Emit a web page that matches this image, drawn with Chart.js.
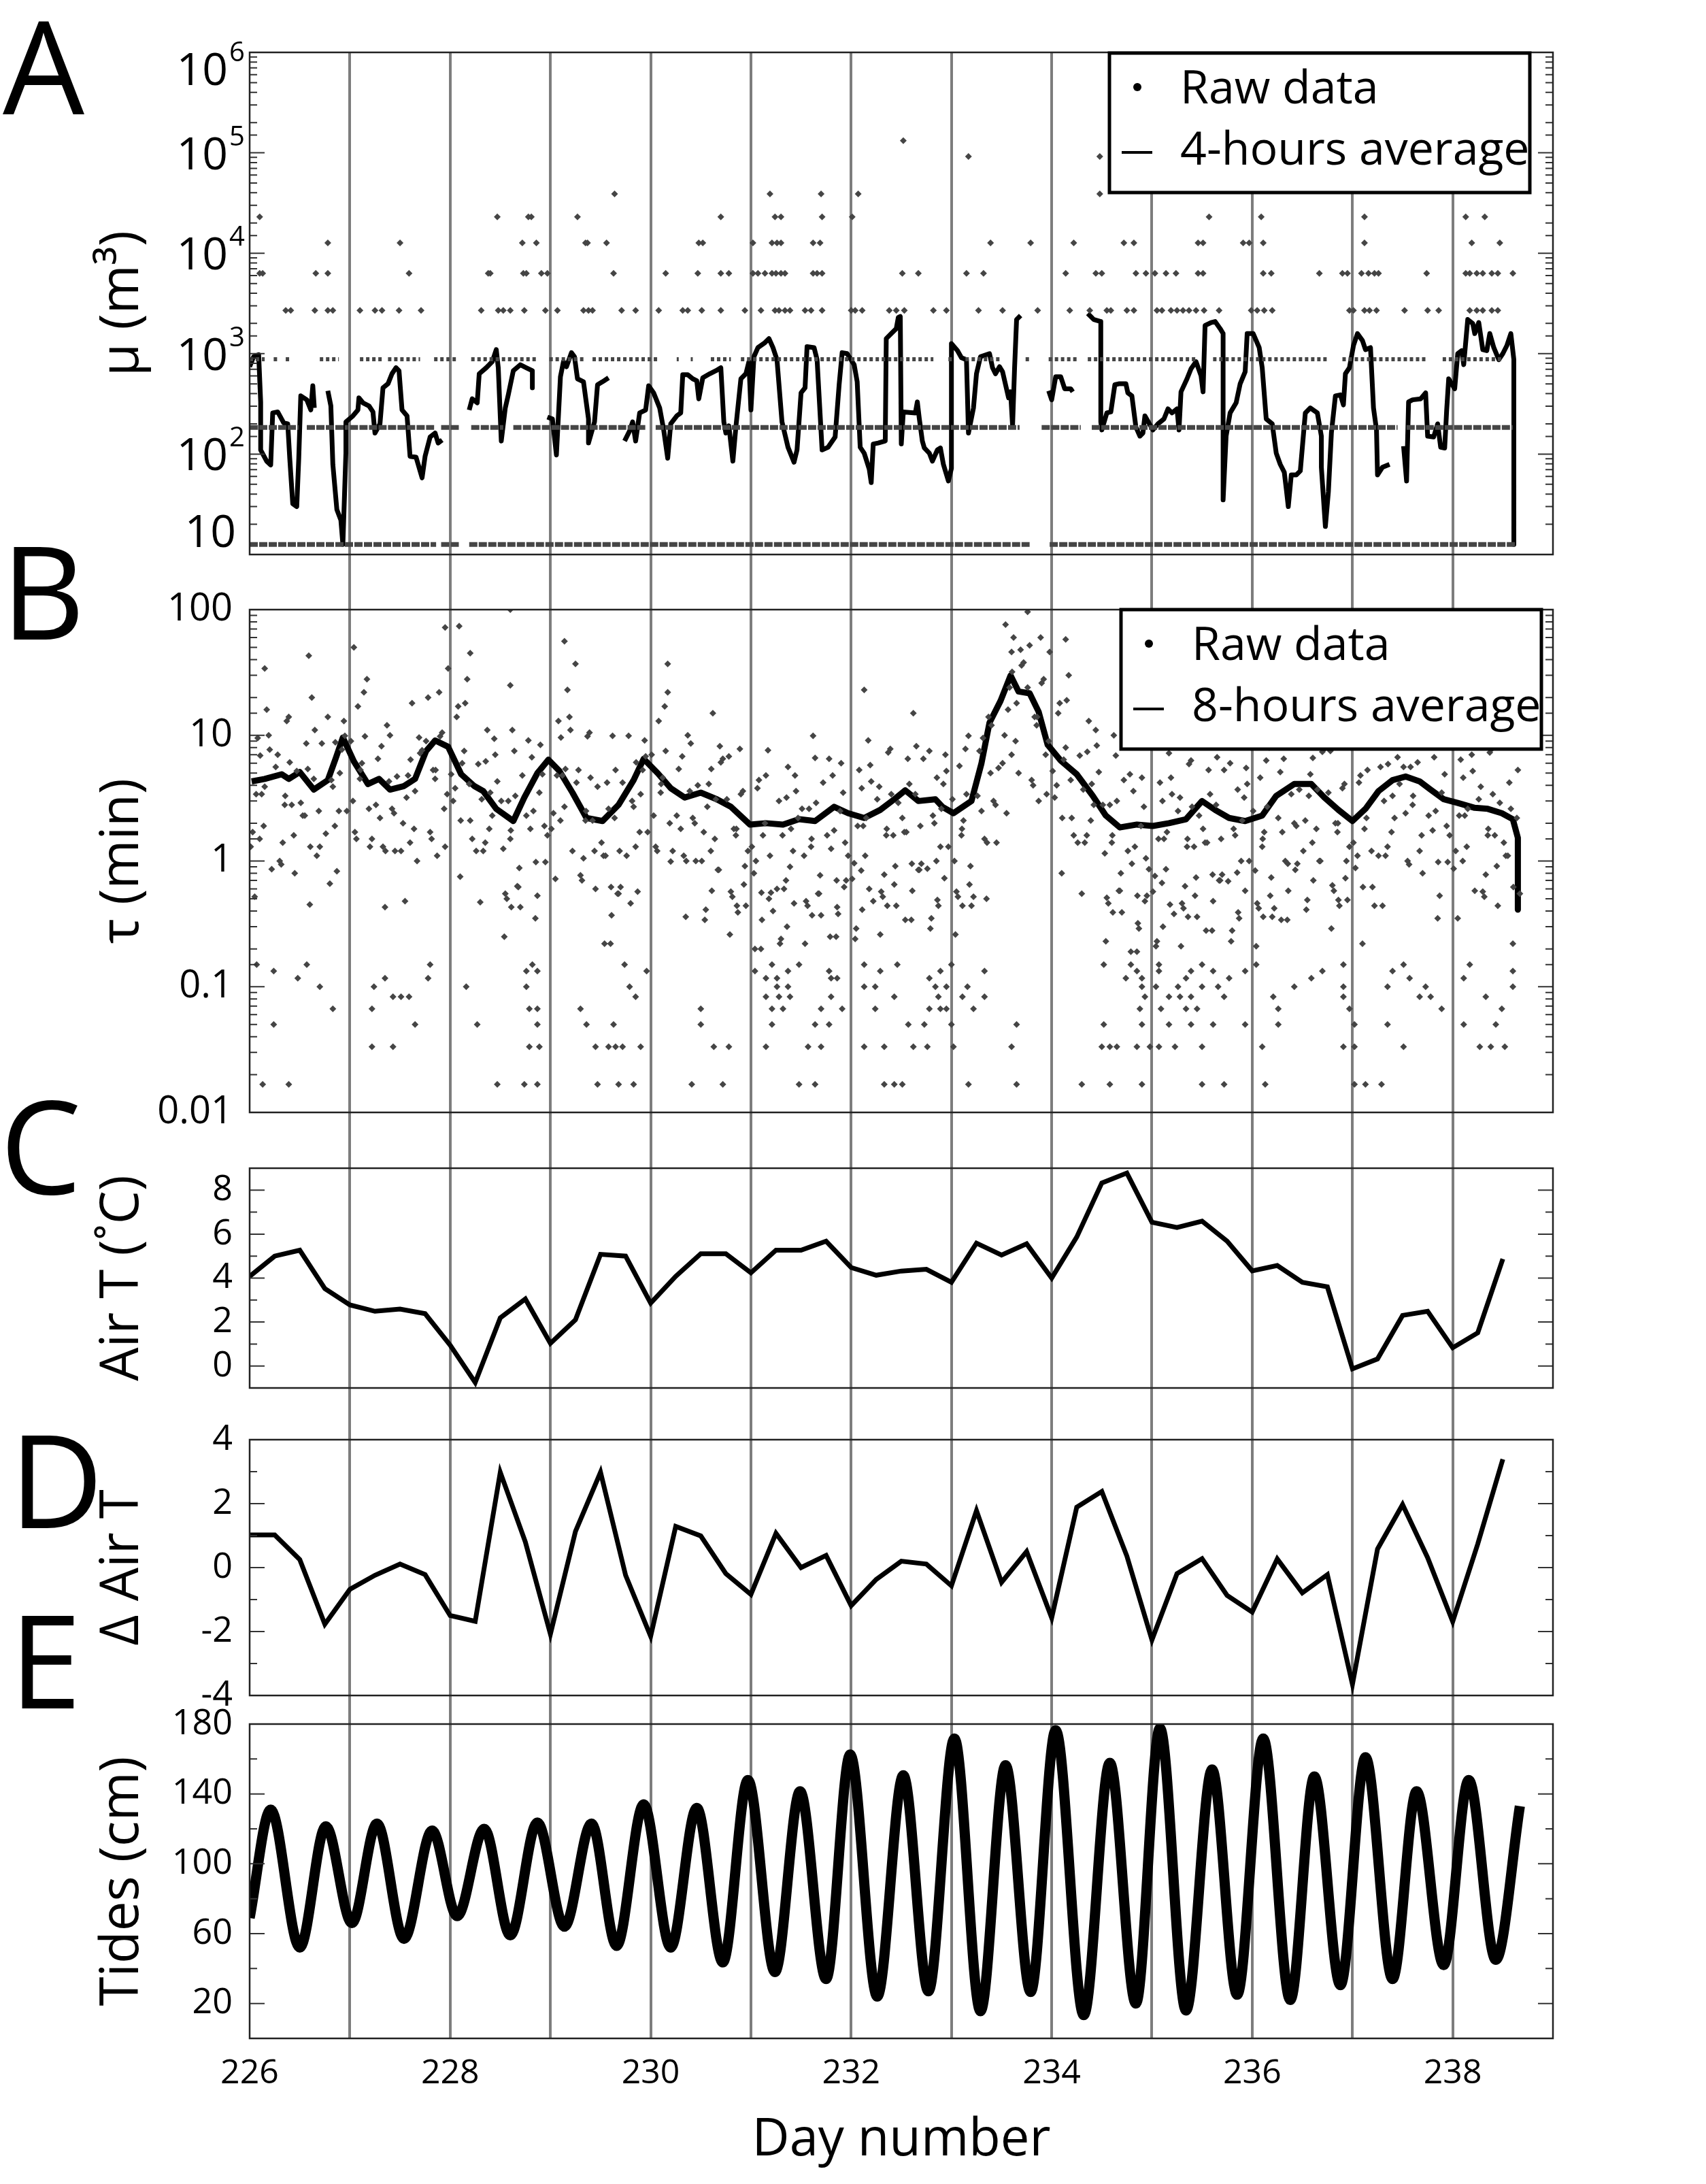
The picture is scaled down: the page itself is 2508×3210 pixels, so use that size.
<!DOCTYPE html>
<html>
<head>
<meta charset="utf-8">
<title>Calving record, days 226-239</title>
<script src="https://cdn.jsdelivr.net/npm/chart.js@4.4.1/dist/chart.umd.min.js"></script>
<style>
  html, body { margin: 0; padding: 0; background: #fff; }
  canvas { display: block; }
</style>
</head>
<body>
<canvas id="panels" width="2508" height="3210" style="width:2508px;height:3210px"></canvas>
<script>
const FONT = "'Open Sans', 'DejaVu Sans', sans-serif";
const DOT = "#454545";
const GRID = "#7d7d7d";

// ---- panel A: event volume (m3) ----
const muBandLevels = [12.6, 184, 880];
const muBandSpans = [
  [[226.0, 227.86], [227.91, 228.10], [228.19, 233.78], [233.98, 238.62]],
  [[226.0, 226.49], [226.57, 226.98], [227.0, 227.84], [227.91, 228.10], [228.21, 228.53], [228.63, 229.95], [230.05, 233.68], [233.90, 234.29], [234.40, 237.45], [237.54, 238.60]],
  [[226.0, 226.15], [226.24, 226.30], [226.36, 226.42], [226.70, 226.89], [227.10, 227.32], [227.38, 227.70], [227.84, 228.06], [228.21, 228.86], [228.99, 229.33], [229.42, 230.07], [230.26, 230.28], [230.40, 230.42], [230.60, 230.80], [230.90, 232.82], [232.97, 233.02], [233.14, 233.48], [233.74, 233.80], [233.97, 234.25], [234.36, 235.44], [235.61, 236.75], [236.90, 237.73], [237.90, 238.49]]
];
const muDotLevels = [2700, 6300, 12700, 23000, 39000, 92000, 132000];
const muDotDays = [
  [226.36, 226.41, 226.65, 226.78, 226.83, 227.10, 227.25, 227.32, 227.49, 227.71, 228.31, 228.48, 228.53, 228.60, 228.74, 228.95, 229.07, 229.33, 229.38, 229.42, 229.71, 229.85, 230.08, 230.32, 230.37, 230.51, 230.70, 230.94, 231.10, 231.24, 231.28, 231.34, 231.39, 231.54, 231.60, 231.71, 232.00, 232.04, 232.11, 232.38, 232.45, 232.53, 232.82, 232.95, 233.27, 233.51, 233.86, 234.18, 234.38, 234.55, 234.59, 234.75, 234.82, 235.05, 235.10, 235.19, 235.25, 235.31, 235.37, 235.44, 235.52, 235.67, 235.99, 236.05, 236.12, 236.20, 236.97, 237.01, 237.12, 237.17, 237.24, 237.52, 237.75, 237.86, 238.17, 238.24, 238.30, 238.39, 238.45],
  [226.10, 226.13, 226.66, 226.78, 227.59, 228.38, 228.40, 228.73, 228.76, 228.91, 228.97, 229.63, 230.15, 230.47, 230.70, 230.78, 231.02, 231.07, 231.14, 231.21, 231.25, 231.30, 231.34, 231.62, 231.66, 231.71, 232.51, 232.67, 233.15, 233.32, 234.14, 234.44, 234.50, 234.84, 234.94, 235.03, 235.14, 235.24, 235.46, 235.51, 236.11, 236.19, 236.67, 236.90, 236.95, 237.09, 237.16, 237.22, 237.26, 237.74, 238.13, 238.17, 238.24, 238.30, 238.39, 238.45, 238.60],
  [226.78, 227.50, 228.72, 228.86, 229.35, 229.37, 229.56, 230.48, 230.52, 231.02, 231.21, 231.26, 231.30, 231.62, 231.69, 233.39, 233.79, 234.22, 234.72, 234.82, 235.46, 235.51, 235.91, 235.97, 236.11, 237.12, 238.19, 238.47],
  [226.10, 228.47, 228.78, 228.81, 229.27, 230.70, 231.24, 231.30, 231.71, 232.01, 235.57, 236.09, 237.12, 238.13, 238.32],
  [229.64, 231.19, 231.70, 232.07, 234.48],
  [233.17, 234.48],
  [232.52]
];
// 4-hours average, null = no data
const muAvg = [
  [226.00, 742], [226.04, 933], [226.09, 977], [226.11, 331], [226.11, 110], [226.17, 85], [226.21, 78], [226.23, 257], [226.28, 263], [226.34, 204], [226.38, 200], [226.40, 91], [226.43, 32], [226.47, 30], [226.49, 91], [226.51, 380], [226.57, 347], [226.61, 275], [226.63, 479], [226.645, 288],
  [226.70, null],
  [226.78, 427], [226.81, 302], [226.83, 79], [226.87, 28], [226.91, 22], [226.93, 12.6], [226.96, 102], [226.96, 209], [227.03, 240], [227.08, 275], [227.09, 363], [227.13, 324], [227.19, 302], [227.23, 263], [227.25, 162], [227.30, 200], [227.33, 457], [227.38, 501], [227.42, 631], [227.46, 724], [227.49, 676], [227.52, 275], [227.57, 240], [227.60, 95], [227.66, 93], [227.72, 58], [227.75, 95], [227.80, 148], [227.85, 162], [227.88, 129], [227.92, 138],
  [228.00, null],
  [228.19, 275], [228.22, 355], [228.27, 324], [228.29, 631], [228.36, 724], [228.42, 832], [228.46, 1096], [228.48, 724], [228.51, 135], [228.55, 288], [228.58, 389], [228.63, 676], [228.70, 776], [228.76, 724], [228.82, 676], [228.82, 457],
  [228.90, null],
  [228.97, 234], [229.02, 224], [229.06, 98], [229.10, 589], [229.13, 832], [229.16, 741], [229.21, 1023], [229.24, 933], [229.27, 562], [229.33, 525], [229.38, 224], [229.38, 129], [229.44, 209], [229.47, 490], [229.52, 525], [229.58, 575],
  [229.65, null],
  [229.74, 135], [229.79, 170], [229.82, 209], [229.85, 135], [229.89, 257], [229.95, 275], [229.98, 479], [230.03, 407], [230.09, 288], [230.13, 174], [230.17, 91], [230.20, 200], [230.26, 240], [230.30, 257], [230.32, 617], [230.37, 617], [230.42, 562], [230.46, 537], [230.48, 355], [230.52, 575], [230.59, 631], [230.65, 676], [230.70, 724], [230.73, 209], [230.75, 162], [230.78, 191], [230.82, 85], [230.85, 186], [230.90, 562], [230.95, 631], [230.98, 832], [231.00, 275], [231.03, 933], [231.07, 1148], [231.14, 1288], [231.18, 1413], [231.22, 1148], [231.26, 871], [231.31, 209], [231.37, 117], [231.43, 83], [231.46, 110], [231.50, 407], [231.54, 457], [231.56, 1175], [231.63, 1148], [231.66, 871], [231.71, 110], [231.77, 117], [231.84, 148], [231.88, 490], [231.91, 1023], [231.96, 1000], [232.03, 776], [232.06, 525], [232.09, 117], [232.13, 102], [232.18, 71], [232.20, 52], [232.22, 126], [232.27, 129], [232.34, 135], [232.35, 1413], [232.41, 1622], [232.45, 1778], [232.47, 2291], [232.49, 2344], [232.50, 126], [232.52, 263], [232.64, 257], [232.66, 331], [232.68, 224], [232.71, 135], [232.73, 115], [232.78, 102], [232.81, 85], [232.86, 110], [232.89, 115], [232.92, 79], [232.97, 54], [233.00, 72], [233.00, 1259], [233.06, 1072], [233.10, 912], [233.15, 871], [233.17, 162], [233.22, 288], [233.25, 631], [233.29, 933], [233.38, 1000], [233.41, 724], [233.44, 631], [233.48, 741], [233.51, 661], [233.57, 363], [233.59, 417], [233.61, 191], [233.63, 724], [233.65, 2188], [233.69, 2399],
  [233.80, null],
  [233.97, 427], [234.00, 347], [234.04, 589], [234.09, 589], [234.13, 447], [234.19, 447], [234.21, 417],
  [234.30, null],
  [234.36, 2512], [234.42, 2188], [234.49, 2089], [234.49, 209], [234.50, 174], [234.55, 257], [234.59, 263], [234.63, 490], [234.67, 501], [234.74, 501], [234.76, 407], [234.80, 380], [234.84, 186], [234.88, 151], [234.91, 162], [234.93, 240], [234.97, 204], [235.01, 174], [235.06, 200], [235.12, 224], [235.16, 282], [235.20, 257], [235.25, 282], [235.27, 174], [235.29, 417], [235.35, 562], [235.39, 708], [235.44, 832], [235.49, 603], [235.51, 417], [235.53, 1905], [235.59, 2042], [235.63, 2089], [235.68, 1778], [235.71, 1585], [235.71, 35], [235.74, 151], [235.78, 257], [235.84, 324], [235.88, 501], [235.93, 661], [235.95, 1585], [236.01, 1585], [236.07, 1148], [236.10, 724], [236.14, 224], [236.20, 200], [236.24, 102], [236.28, 79], [236.32, 66], [236.34, 45], [236.36, 30], [236.39, 62], [236.44, 62], [236.48, 68], [236.53, 257], [236.58, 288], [236.65, 257], [236.69, 151], [236.69, 74], [236.73, 19], [236.76, 42], [236.79, 162], [236.83, 380], [236.88, 389], [236.91, 309], [236.93, 631], [236.97, 724], [237.01, 1202], [237.05, 1585], [237.10, 1349], [237.13, 1096], [237.18, 1148], [237.21, 288], [237.24, 174], [237.25, 62], [237.30, 74], [237.37, 79],
  [237.45, null],
  [237.51, 120], [237.54, 54], [237.56, 331], [237.60, 347], [237.68, 355], [237.73, 407], [237.75, 151], [237.81, 148], [237.85, 200], [237.88, 117], [237.92, 115], [237.94, 275], [237.96, 562], [238.02, 447], [238.05, 1000], [238.09, 1072], [238.11, 776], [238.15, 2188], [238.20, 1995], [238.22, 1585], [238.26, 2042], [238.30, 1096], [238.34, 1072], [238.37, 1585], [238.41, 1148], [238.46, 871], [238.50, 1000], [238.54, 1202], [238.58, 1585], [238.61, 871], [238.61, 12.6]
];

// ---- panel B: waiting time (min) ----
const tauRowLevels = [0.0167, 0.0333, 0.05, 0.0667, 0.0833, 0.1, 0.1167, 0.1333, 0.15];
const tauRowDays = [
  [226.13, 226.39, 228.47, 228.74, 228.87, 229.47, 229.68, 229.83, 230.41, 230.72, 231.48, 231.64, 232.33, 232.43, 232.51, 233.17, 233.65, 234.30, 234.58, 234.90, 235.50, 235.72, 236.13, 237.02, 237.13, 237.29],
  [227.22, 227.43, 228.79, 228.89, 229.45, 229.58, 229.65, 229.72, 229.90, 230.63, 230.78, 231.15, 231.57, 231.70, 232.13, 232.33, 232.62, 232.76, 233.02, 233.60, 234.50, 234.58, 234.65, 234.85, 234.98, 235.07, 235.23, 235.50, 236.10, 236.91, 237.02, 237.51, 238.27, 238.38, 238.52],
  [226.24, 227.65, 228.27, 228.87, 229.36, 229.63, 230.50, 231.21, 231.64, 231.78, 232.57, 232.73, 233.00, 233.65, 234.52, 234.90, 235.17, 235.39, 235.61, 235.93, 236.26, 237.02, 237.35, 238.11, 238.43],
  [226.83, 227.22, 228.79, 228.87, 229.30, 230.50, 231.21, 231.32, 231.70, 231.91, 232.24, 232.78, 232.89, 232.95, 233.22, 234.88, 235.09, 235.34, 235.45, 236.26, 236.97, 237.89, 238.49],
  [227.43, 227.51, 227.59, 229.85, 231.15, 231.28, 231.39, 231.80, 232.43, 232.87, 233.11, 233.33, 234.93, 235.17, 235.28, 235.39, 235.72, 236.21, 236.91, 237.67, 237.78, 238.33],
  [226.70, 227.24, 228.16, 228.76, 229.79, 231.26, 231.37, 232.13, 232.24, 232.84, 232.95, 233.16, 234.90, 235.04, 235.26, 235.50, 235.66, 236.42, 236.91, 237.35, 237.73, 238.60],
  [226.48, 227.35, 227.78, 231.15, 231.26, 231.80, 231.86, 232.78, 234.74, 234.90, 235.34, 235.77, 236.59, 237.57, 238.11],
  [226.24, 228.76, 228.87, 229.96, 231.04, 231.37, 231.78, 232.29, 232.89, 233.33, 234.85, 235.07, 235.39, 235.61, 235.93, 236.70, 237.40, 238.60],
  [226.07, 226.57, 227.80, 228.82, 229.74, 231.21, 231.48, 232.13, 232.46, 233.00, 234.52, 234.79, 235.07, 235.50, 236.04, 236.91, 237.51, 238.17]
];
const tauCloud = [
  [226.03,1.7],[226.05,0.52],[226.08,9.5],[226.10,1.5],[226.12,3.4],[226.15,3.9],[226.17,16],[226.20,7.7],[226.22,0.86],
  [226.28,7.0],[226.30,1.0],[226.33,1.4],[226.35,2.8],[226.37,13],[226.40,6.1],[226.42,2.8],[226.45,0.8],[226.47,5.2],
  [226.53,2.3],[226.55,2.3],[226.58,5.4],[226.60,0.45],[226.62,20],[226.65,11],[226.67,1.1],[226.70,1.3],[226.72,8.6],
  [226.78,14],[226.80,0.66],[226.83,3.9],[226.85,1.9],[226.87,0.83],[226.90,5.0],[226.92,7.7],[226.95,9.9],[226.97,2.5],
  [227.03,3.0],[227.05,1.7],[227.08,17],[227.10,4.5],[227.12,6.0],[227.15,9.8],[227.17,28],[227.20,1.3],[227.22,1.5],
  [227.28,6.5],[227.30,2.2],[227.33,1.3],[227.35,0.43],[227.37,12],[227.40,10],[227.42,2.6],[227.45,1.2],[227.47,4.7],
  [227.53,2.0],[227.55,0.48],[227.58,4.8],[227.60,1.4],[227.62,18],[227.65,3.6],[227.67,1.0],[227.70,7.2],[227.72,7.6],
  [227.78,20],[227.80,1.7],[227.83,5.3],[227.85,4.5],[227.87,1.1],[227.90,9.8],[227.92,10.5],[227.95,1.3],[227.97,3.4],
  [228.03,3.0],[228.05,3.8],[228.08,17],[228.10,0.75],[228.12,6.0],[228.15,18],[228.17,28],[228.20,2.1],[228.22,1.5],
  [228.28,5.9],[228.30,0.47],[228.33,1.2],[228.35,1.4],[228.37,11],[228.40,3.5],[228.42,2.3],[228.45,7.0],[228.47,4.3],
  [228.53,1.25],[228.55,0.55],[228.58,3.0],[228.60,1.5],[228.62,11],[228.65,3.3],[228.67,0.63],[228.70,0.43],[228.72,4.8],
  [228.78,9.1],[228.80,1.8],[228.83,2.5],[228.85,0.35],[228.87,0.53],[228.90,8.4],[228.92,4.9],[228.95,0.98],[228.97,1.6],
  [229.03,2.4],[229.05,0.72],[229.08,13],[229.10,2.1],[229.12,4.8],[229.15,5.4],[229.17,23],[229.20,11],[229.22,1.2],
  [229.28,5.3],[229.30,0.77],[229.33,1.05],[229.35,2.1],[229.37,9.8],[229.40,4.6],[229.42,2.1],[229.45,0.6],[229.47,3.9],
  [229.53,1.1],[229.55,1.1],[229.58,2.6],[229.60,0.22],[229.62,9.9],[229.65,5.3],[229.67,0.55],[229.70,0.62],[229.72,4.2],
  [229.78,9.9],[229.80,0.46],[229.83,2.7],[229.85,1.3],[229.87,0.57],[229.90,3.4],[229.92,5.3],[229.95,6.8],[229.97,1.7],
  [230.03,2.3],[230.05,1.3],[230.08,13],[230.10,3.5],[230.12,4.6],[230.15,7.5],[230.17,22],[230.20,0.99],[230.22,1.2],
  [230.28,5.4],[230.30,1.8],[230.33,1.1],[230.35,0.36],[230.37,10],[230.40,8.6],[230.42,2.2],[230.45,1.0],[230.47,4.0],
  [230.53,1.7],[230.55,0.41],[230.58,4.1],[230.60,1.2],[230.62,15],[230.65,3.1],[230.67,0.85],[230.70,6.1],[230.72,6.5],
  [230.78,6.8],[230.80,0.57],[230.83,1.8],[230.85,1.6],[230.87,0.39],[230.90,3.4],[230.92,3.6],[230.95,0.44],[230.97,1.2],
  [231.03,0.8],[231.05,1.0],[231.08,4.4],[231.10,0.2],[231.12,1.6],[231.15,4.8],[231.17,7.6],[231.20,0.56],[231.22,0.4],
  [231.28,3.0],[231.30,0.24],[231.33,0.6],[231.35,0.7],[231.37,5.6],[231.40,1.8],[231.42,1.2],[231.45,3.6],[231.47,2.2],
  [231.53,1.1],[231.55,0.48],[231.58,2.6],[231.60,1.3],[231.62,9.9],[231.65,2.9],[231.67,0.55],[231.70,0.37],[231.72,4.2],
  [231.78,6.5],[231.80,1.25],[231.83,1.75],[231.85,0.25],[231.87,0.38],[231.90,6.0],[231.92,3.5],[231.95,0.7],[231.97,1.1],
  [232.03,0.96],[232.05,0.29],[232.08,5.3],[232.10,0.84],[232.12,1.9],[232.15,2.2],[232.17,9.1],[232.20,4.3],[232.22,0.48],
  [232.28,3.9],[232.30,0.57],[232.33,0.78],[232.35,1.6],[232.37,7.3],[232.40,3.4],[232.42,1.6],[232.45,0.44],[232.47,2.9],
  [232.53,1.7],[232.55,1.7],[232.58,4.1],[232.60,0.34],[232.62,15],[232.65,8.2],[232.67,0.85],[232.70,0.95],[232.72,6.5],
  [232.78,7.5],[232.80,0.35],[232.83,2.0],[232.85,1.0],[232.87,0.44],[232.90,2.6],[232.92,4.1],[232.95,5.2],[232.97,1.3],
  [233.03,1.0],[233.05,0.57],[233.08,5.7],[233.10,1.6],[233.12,2.1],[233.15,3.4],[233.17,9.9],[233.20,0.44],[233.22,0.52],
  [233.28,7.5],[233.30,2.5],[233.33,1.5],[233.35,0.5],[233.37,14],[233.40,12],[233.42,3.0],[233.45,1.4],[233.47,5.5],
  [233.53,10],[233.55,2.4],[233.58,24],[233.60,7.0],[233.62,60],[233.65,18],[233.67,5.0],[233.70,36],[233.72,38],
  [233.78,52],[233.80,4.4],[233.83,14],[233.85,12],[233.87,3.0],[233.90,26],[233.92,28],[233.95,3.4],[233.97,9.0],
  [234.03,3.2],[234.05,4.0],[234.08,18],[234.10,0.8],[234.12,6.4],[234.15,19],[234.17,30],[234.20,2.2],[234.22,1.6],
  [234.28,6.9],[234.30,0.55],[234.33,1.4],[234.35,1.6],[234.37,13],[234.40,4.1],[234.42,2.8],[234.45,8.3],[234.47,5.1],
  [234.53,1.15],[234.55,0.51],[234.58,2.8],[234.60,1.4],[234.62,10],[234.65,3.0],[234.67,0.58],[234.70,0.39],[234.72,4.4],
  [234.78,4.9],[234.80,0.95],[234.83,1.3],[234.85,0.19],[234.87,0.29],[234.90,4.6],[234.92,2.7],[234.95,0.53],[234.97,0.86],
  [235.03,0.76],[235.05,0.23],[235.08,4.2],[235.10,0.67],[235.12,1.5],[235.15,1.7],[235.17,7.2],[235.20,3.4],[235.22,0.38],
  [235.28,3.2],[235.30,0.46],[235.33,0.63],[235.35,1.3],[235.37,5.9],[235.40,2.7],[235.42,1.3],[235.45,0.36],[235.47,2.3],
  [235.53,1.4],[235.55,1.4],[235.58,3.4],[235.60,0.28],[235.62,13],[235.65,6.7],[235.67,0.7],[235.70,0.78],[235.72,5.3],
  [235.78,6.0],[235.80,0.28],[235.83,1.6],[235.85,0.81],[235.87,0.35],[235.90,2.1],[235.92,3.2],[235.95,4.1],[235.97,1.0],
  [236.03,0.84],[236.05,0.46],[236.08,4.6],[236.10,1.3],[236.12,1.7],[236.15,2.7],[236.17,8.0],[236.20,0.36],[236.22,0.42],
  [236.28,5.1],[236.30,1.7],[236.33,1.0],[236.35,0.34],[236.37,9.5],[236.40,8.2],[236.42,2.0],[236.45,0.95],[236.47,3.7],
  [236.53,2.1],[236.55,0.49],[236.58,4.9],[236.60,1.4],[236.62,18],[236.65,3.7],[236.67,1.0],[236.70,7.4],[236.72,7.8],
  [236.78,7.5],[236.80,0.64],[236.83,2.0],[236.85,1.7],[236.87,0.44],[236.90,3.8],[236.92,4.1],[236.95,0.49],[236.97,1.3],
  [237.03,0.88],[237.05,1.1],[237.08,4.8],[237.10,0.22],[237.12,1.8],[237.15,5.3],[237.17,8.4],[237.20,0.62],[237.22,0.44],
  [237.28,5.6],[237.30,0.44],[237.33,1.1],[237.35,1.3],[237.37,10],[237.40,3.3],[237.42,2.2],[237.45,6.7],[237.47,4.1],
  [237.53,2.4],[237.55,1.0],[237.58,5.6],[237.60,2.8],[237.62,21],[237.65,6.1],[237.67,1.2],[237.70,0.8],[237.72,8.9],
  [237.78,9.1],[237.80,1.75],[237.83,2.5],[237.85,0.35],[237.87,0.53],[237.90,8.4],[237.92,4.9],[237.95,0.98],[237.97,1.6],
  [238.03,1.2],[238.05,0.35],[238.08,6.4],[238.10,1.0],[238.12,2.3],[238.15,2.6],[238.17,11],[238.20,5.2],[238.22,0.58],
  [238.28,3.9],[238.30,0.57],[238.33,0.78],[238.35,1.6],[238.37,7.3],[238.40,3.4],[238.42,1.6],[238.45,0.44],[238.47,2.9],
  [238.53,1.1],[238.55,1.1],[238.58,2.6],[238.60,0.22],[238.62,9.9],[238.65,5.3],[238.67,0.55],
  [228.60,100],[228.09,74],[227.95,72],[227.04,50],[226.59,43],[228.20,45],[229.14,56],[230.17,37],[229.25,37],[233.54,76],
  [233.76,96],[233.60,46],[233.98,46],[234.14,58],[232.13,23],[226.15,34],[227.98,34],[228.60,25]
];
// second pass over the cloud, core of the scatter
const tauCore = [
  [226.01,1.3],[226.065,3.4],[226.105,6.9],[226.14,1.9],[226.19,10],
  [226.26,5.6],[226.315,0.94],[226.355,3.3],[226.39,14],[226.44,1.6],
  [226.51,2.9],[226.565,8.6],[226.605,1.3],[226.64,4.5],[226.69,2.5],
  [226.76,1.65],[226.815,4.4],[226.855,8.8],[226.89,2.5],[226.94,13],
  [227.01,9.0],[227.065,1.5],[227.105,5.3],[227.14,22],[227.19,2.6],
  [227.26,2.8],[227.315,8.2],[227.355,1.2],[227.39,4.3],[227.44,2.4],
  [227.51,1.2],[227.565,3.2],[227.605,6.4],[227.64,1.8],[227.69,9.6],
  [227.76,9.0],[227.815,1.5],[227.855,5.3],[227.89,22],[227.94,2.6],
  [228.01,4.9],[228.065,14],[228.105,2.1],[228.14,7.5],[228.19,4.1],
  [228.26,1.2],[228.315,3.1],[228.355,6.2],[228.39,1.8],[228.44,9.4],
  [228.51,3.0],[228.565,0.5],[228.605,1.75],[228.64,7.5],[228.69,0.88],
  [228.76,2.3],[228.815,6.7],[228.855,0.98],[228.89,3.5],[228.94,1.9],
  [229.01,1.8],[229.065,4.8],[229.105,9.6],[229.14,2.7],[229.19,14],
  [229.26,4.2],[229.315,0.7],[229.355,2.5],[229.39,10.5],[229.44,1.2],
  [229.51,1.4],[229.565,4.2],[229.605,0.62],[229.64,2.2],[229.69,1.2],
  [229.76,1.1],[229.815,3.0],[229.855,6.1],[229.89,1.7],[229.94,9.1],
  [230.01,7.0],[230.065,1.2],[230.105,4.1],[230.14,17],[230.19,2.0],
  [230.26,2.3],[230.315,6.8],[230.355,1.0],[230.39,3.6],[230.44,2.0],
  [230.51,1.0],[230.565,2.7],[230.605,5.4],[230.64,1.5],[230.69,8.2],
  [230.76,3.1],[230.815,0.52],[230.855,1.8],[230.89,7.8],[230.94,0.91],
  [231.01,1.3],[231.065,3.8],[231.105,0.56],[231.14,2.0],[231.19,1.1],
  [231.26,0.6],[231.315,1.6],[231.355,3.2],[231.39,0.9],[231.44,4.8],
  [231.51,2.6],[231.565,0.44],[231.605,1.5],[231.64,6.6],[231.69,0.77],
  [231.76,1.6],[231.815,4.8],[231.855,0.7],[231.89,2.5],[231.94,1.4],
  [232.01,0.72],[232.065,1.9],[232.105,3.8],[232.14,1.1],[232.19,5.8],
  [232.26,3.1],[232.315,0.52],[232.355,1.8],[232.39,7.8],[232.44,0.91],
  [232.51,2.2],[232.565,6.5],[232.605,0.95],[232.64,3.4],[232.69,1.9],
  [232.76,0.87],[232.815,2.3],[232.855,4.6],[232.89,1.3],[232.94,7.0],
  [233.01,3.1],[233.065,0.52],[233.105,1.8],[233.14,7.8],[233.19,0.91],
  [233.26,3.3],[233.315,9.5],[233.355,1.4],[233.39,5.0],[233.44,2.8],
  [233.51,6.0],[233.565,16],[233.605,32],[233.64,9.0],[233.69,48],
  [233.76,24],[233.815,4.0],[233.855,14],[233.89,60],[233.94,7.0],
  [234.01,5.2],[234.065,15],[234.105,2.2],[234.14,8.0],[234.19,4.4],
  [234.26,1.4],[234.315,3.7],[234.355,7.4],[234.39,2.1],[234.44,11],
  [234.51,2.8],[234.565,0.46],[234.605,1.6],[234.64,6.9],[234.69,0.8],
  [234.76,1.2],[234.815,3.6],[234.855,0.53],[234.89,1.9],[234.94,1.05],
  [235.01,0.57],[235.065,1.5],[235.105,3.0],[235.14,0.86],[235.19,4.6],
  [235.26,2.5],[235.315,0.42],[235.355,1.5],[235.39,6.3],[235.44,0.74],
  [235.51,1.8],[235.565,5.3],[235.605,0.78],[235.64,2.8],[235.69,1.5],
  [235.76,0.69],[235.815,1.8],[235.855,3.7],[235.89,1.0],[235.94,5.5],
  [236.01,2.5],[236.065,0.42],[236.105,1.5],[236.14,6.3],[236.19,0.74],
  [236.26,2.2],[236.315,6.5],[236.355,0.95],[236.39,3.4],[236.44,1.9],
  [236.51,1.2],[236.565,3.3],[236.605,6.6],[236.64,1.8],[236.69,9.8],
  [236.76,3.5],[236.815,0.58],[236.855,2.0],[236.89,8.7],[236.94,1.0],
  [237.01,1.4],[237.065,4.2],[237.105,0.62],[237.14,2.2],[237.19,1.2],
  [237.26,1.1],[237.315,3.0],[237.355,5.9],[237.39,1.7],[237.44,8.9],
  [237.51,5.6],[237.565,0.94],[237.605,3.3],[237.64,14],[237.69,1.6],
  [237.76,2.3],[237.815,6.7],[237.855,0.98],[237.89,3.5],[237.94,1.9],
  [238.01,0.87],[238.065,2.3],[238.105,4.6],[238.14,1.3],[238.19,7.0],
  [238.26,3.1],[238.315,0.52],[238.355,1.8],[238.39,7.8],[238.44,0.91],
  [238.51,1.4],[238.565,4.2],[238.605,0.62],[238.64,2.2],
  [228.54,0.25],[228.61,0.43],[228.68,0.62],[229.54,0.22],[229.61,0.37],[229.68,0.55],
  [230.54,0.34],[230.61,0.58],[230.68,0.85],[230.79,0.26],[230.86,0.44],[230.93,0.65],
  [231.04,0.2],[231.11,0.34],[231.18,0.5],[231.29,0.22],[231.36,0.3],[231.43,0.46],
  [231.54,0.22],[231.61,0.37],[231.68,0.55],[231.79,0.25],[231.86,0.43],[231.93,0.62],
  [232.04,0.24],[232.11,0.41],[232.18,0.6],[232.29,0.26],[232.36,0.44],[232.43,0.65],
  [232.54,0.34],[232.61,0.58],[232.68,0.85],[232.79,0.29],[232.86,0.49],[232.93,0.73],
  [233.04,0.26],[233.11,0.44],[233.18,0.65],[234.54,0.23],[234.61,0.39],[234.68,0.58],
  [234.79,0.19],[234.86,0.32],[234.93,0.48],[235.04,0.21],[235.11,0.3],[235.18,0.45],
  [235.29,0.21],[235.36,0.36],[235.43,0.53],[235.54,0.28],[235.61,0.48],[235.68,0.7],
  [235.79,0.23],[235.86,0.39],[235.93,0.58],[236.04,0.21],[236.11,0.36],[236.18,0.53],
  [236.29,0.34],[236.36,0.58],[236.43,0.85],[236.54,0.41],[236.61,0.7],[236.68,1.0],
  [236.79,0.29],[236.86,0.49],[236.93,0.73]
];
const tauAvgDays = [226.02, 226.15, 226.32, 226.39, 226.50, 226.64, 226.78, 226.86, 226.93, 227.04, 227.18, 227.29, 227.40, 227.54, 227.65, 227.76, 227.85, 227.98, 228.11, 228.24, 228.33, 228.46, 228.63, 228.74, 228.87, 228.98, 229.09, 229.22, 229.36, 229.52, 229.68, 229.83, 229.93, 230.07, 230.20, 230.34, 230.50, 230.66, 230.80, 230.99, 231.15, 231.32, 231.48, 231.64, 231.83, 231.97, 232.13, 232.29, 232.43, 232.54, 232.67, 232.84, 232.91, 233.02, 233.20, 233.30, 233.38, 233.49, 233.59, 233.67, 233.78, 233.87, 233.96, 234.09, 234.25, 234.41, 234.54, 234.68, 234.85, 235.01, 235.17, 235.34, 235.50, 235.63, 235.77, 235.93, 236.10, 236.24, 236.42, 236.59, 236.72, 236.86, 237.00, 237.13, 237.26, 237.40, 237.53, 237.67, 237.78, 237.91, 238.05, 238.22, 238.35, 238.49, 238.60, 238.65, 238.65];
const tauAvgVals = [4.3, 4.5, 4.9, 4.5, 5.1, 3.7, 4.4, 6.6, 9.6, 6.2, 4.1, 4.5, 3.7, 3.95, 4.5, 7.5, 9.1, 8.1, 4.9, 3.95, 3.6, 2.6, 2.08, 3.2, 5.0, 6.4, 5.2, 3.5, 2.2, 2.08, 2.8, 4.4, 6.5, 5.0, 3.8, 3.2, 3.5, 3.1, 2.7, 1.95, 2.0, 1.95, 2.15, 2.08, 2.7, 2.4, 2.2, 2.55, 3.1, 3.65, 3.0, 3.1, 2.7, 2.4, 3.0, 6.0, 12.6, 18.8, 29.9, 22.3, 21.6, 15.4, 8.4, 6.3, 4.9, 3.3, 2.3, 1.85, 1.95, 1.9, 2.0, 2.15, 3.0, 2.55, 2.2, 2.08, 2.3, 3.3, 4.1, 4.1, 3.2, 2.55, 2.08, 2.6, 3.6, 4.4, 4.7, 4.3, 3.7, 3.1, 2.9, 2.65, 2.6, 2.4, 2.15, 1.53, 0.41];

// ---- panels C, D: air temperature and its change ----
const sixHourDays = [226.0, 226.25, 226.5, 226.75, 227.0, 227.25, 227.5, 227.75, 228.0, 228.25, 228.5, 228.75, 229.0, 229.25, 229.5, 229.75, 230.0, 230.25, 230.5, 230.75, 231.0, 231.25, 231.5, 231.75, 232.0, 232.25, 232.5, 232.75, 233.0, 233.25, 233.5, 233.75, 234.0, 234.25, 234.5, 234.75, 235.0, 235.25, 235.5, 235.75, 236.0, 236.25, 236.5, 236.75, 237.0, 237.25, 237.5, 237.75, 238.0, 238.25, 238.5];
const airT = [4.08, 5.0, 5.27, 3.52, 2.78, 2.49, 2.59, 2.38, 0.95, -0.75, 2.19, 3.05, 1.03, 2.1, 5.08, 5.0, 2.86, 4.08, 5.11, 5.11, 4.24, 5.27, 5.27, 5.68, 4.48, 4.13, 4.32, 4.4, 3.81, 5.59, 5.05, 5.56, 4.0, 5.87, 8.33, 8.78, 6.54, 6.3, 6.59, 5.68, 4.33, 4.57, 3.81, 3.6, -0.13, 0.32, 2.3, 2.49, 0.83, 1.51, 4.87];
const dAirT = [1.02, 1.02, 0.25, -1.77, -0.68, -0.24, 0.11, -0.22, -1.5, -1.68, 2.98, 0.8, -2.08, 1.13, 2.98, -0.24, -2.15, 1.29, 0.99, -0.19, -0.84, 1.07, 0.0, 0.38, -1.19, -0.37, 0.2, 0.11, -0.57, 1.78, -0.46, 0.5, -1.57, 1.89, 2.38, 0.36, -2.26, -0.19, 0.28, -0.87, -1.39, 0.27, -0.79, -0.22, -3.65, 0.58, 1.97, 0.31, -1.69, 0.74, 3.39];

// ---- panel E: tide turning points (cm) ----
const tideDays = [226.0, 226.21, 226.50, 226.76, 227.02, 227.27, 227.54, 227.82, 228.07, 228.34, 228.60, 228.87, 229.14, 229.41, 229.66, 229.93, 230.20, 230.46, 230.72, 230.97, 231.24, 231.49, 231.75, 231.99, 232.26, 232.52, 232.77, 233.03, 233.29, 233.54, 233.79, 234.04, 234.32, 234.58, 234.84, 235.08, 235.34, 235.60, 235.85, 236.11, 236.38, 236.62, 236.88, 237.13, 237.40, 237.64, 237.91, 238.16, 238.43, 238.67];
const tideVals = [69, 131, 52, 121.5, 66, 123, 57, 119, 70, 120, 59, 123.6, 64, 123, 53, 134, 52, 132, 43.5, 148, 38, 141.5, 34, 162.6, 24, 150.7, 27, 171.7, 15.6, 156.4, 26.6, 176.5, 13.3, 157.8, 20, 177.7, 16, 154, 25, 171.7, 22, 150, 30.5, 161, 34, 141.5, 42, 148, 45, 133];

const dayLabels = [226, 228, 230, 232, 234, 236, 238];

// ---- helpers ----
const xy = (xs, ys) => xs.map((x, i) => ({ x, y: ys[i] }));

function bandData(levels) {
  const pts = [];
  levels.forEach(i => {
    muBandSpans[i].forEach(([a, b]) => {
      pts.push({ x: a, y: muBandLevels[i] }, { x: b, y: muBandLevels[i] }, { x: b, y: null });
    });
  });
  return pts;
}

function rowDots(levels, days) {
  const pts = [];
  levels.forEach((lvl, i) => days[i].forEach(d => pts.push({ x: d, y: lvl })));
  return pts;
}

const isDecade = v => { const l = Math.log10(v); return Math.abs(l - Math.round(l)) < 1e-6; };

function sideAxis(extra) {
  return Object.assign({
    position: 'left',
    stack: 'panels',
    grid: { display: false },
    border: { display: false },
    afterFit: s => { s.width = 233; },
    ticks: { autoSkip: false, padding: 17, color: '#000', font: { family: FONT, size: 52 } },
    title: { display: true, color: '#000', padding: 0, font: { family: FONT, size: 78 } }
  }, extra);
}

function spacer(weight, stackWeight) {
  return { type: 'linear', position: 'left', stack: 'panels', display: false, min: 0, max: 1, weight, stackWeight };
}

function drawKey(ctx, x, y, second) {
  ctx.save();
  ctx.fillStyle = '#fff';
  ctx.fillRect(x, y, 618, 205);
  ctx.lineWidth = 5;
  ctx.strokeStyle = '#000';
  ctx.strokeRect(x, y, 618, 205);
  ctx.fillStyle = '#000';
  ctx.beginPath();
  ctx.arc(x + 41, y + 50, 6, 0, Math.PI * 2);
  ctx.fill();
  ctx.lineWidth = 4;
  ctx.beginPath();
  ctx.moveTo(x + 18, y + 146);
  ctx.lineTo(x + 63, y + 146);
  ctx.stroke();
  ctx.font = `68px ${FONT}`;
  ctx.textAlign = 'left';
  ctx.textBaseline = 'alphabetic';
  ctx.fillText('Raw data', x + 104, y + 74);
  ctx.fillText(second, x + 104, y + 164);
  ctx.restore();
}

const panelDecor = {
  id: 'panelDecor',
  afterDatasetsDraw(chart) {
    const { ctx, chartArea, scales } = chart;
    const L = chartArea.left, R = chartArea.right;
    ctx.save();
    ['yA', 'yB', 'yC', 'yD', 'yE'].forEach(id => {
      const s = scales[id];
      ctx.strokeStyle = '#333';
      ctx.lineWidth = 2;
      s.ticks.forEach(t => {
        const y = s.getPixelForValue(t.value);
        if (y < s.top - 1 || y > s.bottom + 1) return;
        const major = s.type === 'logarithmic' ? isDecade(t.value) : t.label !== '';
        const len = major ? 22 : 11;
        ctx.beginPath();
        ctx.moveTo(L, y); ctx.lineTo(L + len, y);
        ctx.moveTo(R, y); ctx.lineTo(R - len, y);
        ctx.stroke();
      });
      ctx.strokeStyle = '#222';
      ctx.lineWidth = 2.5;
      ctx.strokeRect(L, s.top, R - L, s.bottom - s.top);
    });
    ctx.restore();
    drawKey(ctx, R - 652, scales.yA.top + 1, '4-hours average');
    drawKey(ctx, R - 635, scales.yB.top, '8-hours average');
  },
  afterDraw(chart) {
    const { ctx, chartArea, scales } = chart;
    ctx.save();
    // decade labels of panel A with raised exponents
    const sA = scales.yA;
    const xr = chartArea.left - 32;
    [1, 2, 3, 4, 5, 6].forEach(e => {
      let y = sA.getPixelForValue(Math.pow(10, e));
      if (e === 6) y += 24;
      if (e === 1) y -= 35;
      ctx.fillStyle = '#000';
      ctx.textBaseline = 'alphabetic';
      ctx.textAlign = 'right';
      ctx.font = `66px ${FONT}`;
      if (e === 1) {
        ctx.fillText('10', xr + 12, y + 24);
      } else {
        ctx.fillText('10', xr, y + 24);
        ctx.textAlign = 'left';
        ctx.font = `40px ${FONT}`;
        ctx.fillText(String(e), xr + 2, y - 11);
      }
    });
    // panel letters
    const letters = [['A', 'yA', 4, 91], ['B', 'yB', 2, 44], ['C', 'yC', 0, 38], ['D', 'yD', 14, 130], ['E', 'yE', 14, -23]];
    ctx.font = `190px ${FONT}`;
    ctx.textAlign = 'left';
    ctx.textBaseline = 'alphabetic';
    ctx.fillStyle = '#000';
    letters.forEach(([t, id, x, dy]) => ctx.fillText(t, x, scales[id].top + dy));
    ctx.restore();
  }
};

Chart.defaults.font.family = FONT;

const dotStyle = { pointStyle: 'rectRot', pointRadius: 5, pointBorderWidth: 0, pointBackgroundColor: DOT };

new Chart(document.getElementById('panels'), {
  type: 'scatter',
  data: {
    datasets: [
      { type: 'line', data: bandData([0, 1]), yAxisID: 'yA', borderColor: DOT, borderWidth: 7, borderDash: [12, 2], pointRadius: 0 },
      { type: 'line', data: bandData([2]), yAxisID: 'yA', borderColor: DOT, borderWidth: 6, borderDash: [5, 4], pointRadius: 0 },
      Object.assign({ type: 'scatter', data: rowDots(muDotLevels, muDotDays), yAxisID: 'yA' }, dotStyle),
      { type: 'line', data: muAvg.map(([x, y]) => ({ x, y })), yAxisID: 'yA', borderColor: '#000', borderWidth: 7, pointRadius: 0, borderJoinStyle: 'round', spanGaps: false },
      Object.assign({ type: 'scatter', data: rowDots(tauRowLevels, tauRowDays), yAxisID: 'yB' }, dotStyle),
      Object.assign({ type: 'scatter', data: tauCloud.map(([x, y]) => ({ x, y })), yAxisID: 'yB' }, dotStyle),
      Object.assign({ type: 'scatter', data: tauCore.map(([x, y]) => ({ x, y })), yAxisID: 'yB' }, dotStyle),
      { type: 'line', data: xy(tauAvgDays, tauAvgVals), yAxisID: 'yB', borderColor: '#000', borderWidth: 9, pointRadius: 0, borderJoinStyle: 'round' },
      { type: 'line', data: xy(sixHourDays, airT), yAxisID: 'yC', borderColor: '#000', borderWidth: 7, pointRadius: 0 },
      { type: 'line', data: xy(sixHourDays, dAirT), yAxisID: 'yD', borderColor: '#000', borderWidth: 7, pointRadius: 0 },
      { type: 'line', data: xy(tideDays, tideVals), yAxisID: 'yE', borderColor: '#000', borderWidth: 15, pointRadius: 0, cubicInterpolationMode: 'monotone' }
    ]
  },
  options: {
    responsive: false,
    animation: false,
    devicePixelRatio: 1,
    events: [],
    layout: { padding: { left: 134, right: 225, top: 77, bottom: 0 } },
    plugins: { legend: { display: false }, tooltip: { enabled: false }, title: { display: false } },
    scales: {
      x: {
        type: 'linear',
        position: 'bottom',
        min: 226,
        max: 239,
        afterFit: s => { s.height = 214; },
        border: { display: false },
        grid: {
          drawTicks: false,
          lineWidth: 4,
          color: c => (c.tick && (c.tick.value <= 226 || c.tick.value >= 239)) ? 'rgba(0,0,0,0)' : GRID
        },
        ticks: {
          stepSize: 1,
          autoSkip: false,
          maxRotation: 0,
          padding: 22,
          color: '#000',
          font: { family: FONT, size: 50 },
          callback: v => dayLabels.includes(v) ? String(v) : ''
        },
        title: { display: true, text: 'Day number', color: '#000', padding: { top: 0, bottom: 18 }, font: { family: FONT, size: 76 } }
      },
      yA: sideAxis({
        type: 'logarithmic', min: 10, max: 1e6, weight: 9, stackWeight: 738,
        ticks: { display: false },
        title: { display: true, text: 'μ (m³)', color: '#000', padding: 0, font: { family: FONT, size: 78 } }
      }),
      gapAB: spacer(8, 81),
      yB: sideAxis({
        type: 'logarithmic', min: 0.01, max: 100, weight: 7, stackWeight: 739,
        ticks: { autoSkip: false, padding: 17, color: '#000', font: { family: FONT, size: 56 },
          callback: v => isDecade(v) ? String(+v.toPrecision(3)) : '' },
        title: { display: true, text: 'τ (min)', color: '#000', padding: 0, font: { family: FONT, size: 78 } }
      }),
      gapBC: spacer(6, 82),
      yC: sideAxis({
        type: 'linear', min: -1, max: 9, weight: 5, stackWeight: 323,
        ticks: { stepSize: 1, autoSkip: false, padding: 17, color: '#000', font: { family: FONT, size: 52 },
          callback: v => (v % 2 === 0 ? String(v) : '') },
        title: { display: true, text: 'Air T (˚C)', color: '#000', padding: 0, font: { family: FONT, size: 78 } }
      }),
      gapCD: spacer(4, 76),
      yD: sideAxis({
        type: 'linear', min: -4, max: 4, weight: 3, stackWeight: 376,
        ticks: { stepSize: 1, autoSkip: false, padding: 17, color: '#000', font: { family: FONT, size: 52 },
          callback: v => (v % 2 === 0 ? String(v) : '') },
        title: { display: true, text: 'Δ Air T', color: '#000', padding: 0, font: { family: FONT, size: 78 } }
      }),
      gapDE: spacer(2, 42),
      yE: sideAxis({
        type: 'linear', min: 0, max: 180, weight: 1, stackWeight: 462,
        ticks: { stepSize: 20, autoSkip: false, padding: 17, color: '#000', font: { family: FONT, size: 52 },
          callback: v => (v % 40 === 20 ? String(v) : '') },
        title: { display: true, text: 'Tides (cm)', color: '#000', padding: 0, font: { family: FONT, size: 78 } }
      })
    }
  },
  plugins: [panelDecor]
});
</script>
</body>
</html>
